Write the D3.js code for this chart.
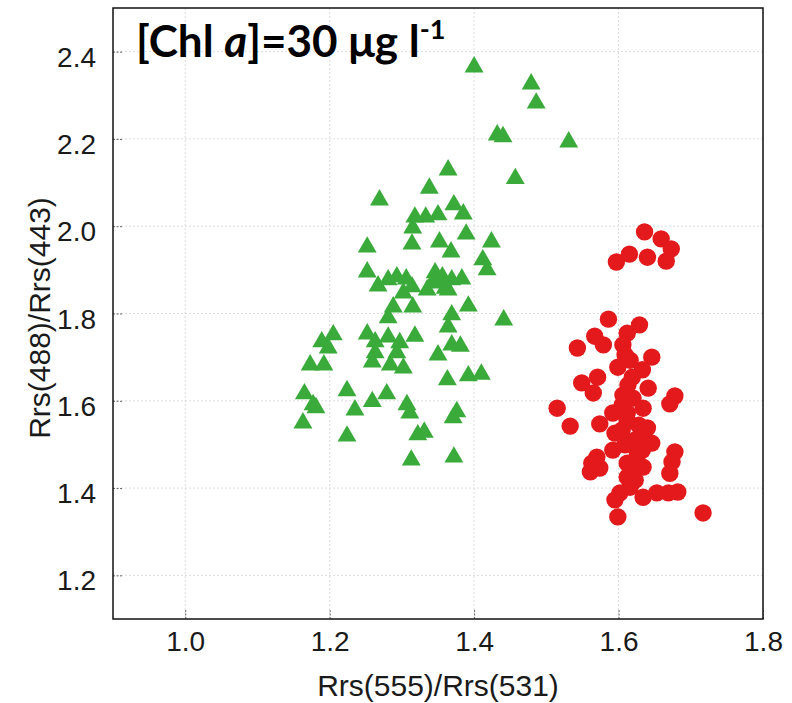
<!DOCTYPE html>
<html>
<head>
<meta charset="utf-8">
<script src="https://cdn.jsdelivr.net/npm/d3@7"></script>
<style>
  html, body { margin: 0; padding: 0; background: #fff; }
  svg { display: block; }
</style>
</head>
<body>
<svg id="chart" width="792" height="703"></svg>
<script>
// ---- data ----
const xDomain = [0.9, 1.8];
const yDomain = [1.1, 2.5];
const xTicks = [1.0, 1.2, 1.4, 1.6, 1.8];
const yTicks = [1.2, 1.4, 1.6, 1.8, 2.0, 2.2, 2.4];
const xTickLabels = ["1.0", "1.2", "1.4", "1.6", "1.8"];
const yTickLabels = ["1.2", "1.4", "1.6", "1.8", "2.0", "2.2", "2.4"];
const xLabel = "Rrs(555)/Rrs(531)";
const yLabel = "Rrs(488)/Rrs(443)";

// green triangles
const greenX = [1.400,1.479,1.486,1.432,1.440,1.531,1.364,1.457,1.338,1.269,
  1.318,1.333,1.350,1.372,1.385,1.315,1.389,1.424,1.252,1.314,
  1.352,1.368,1.412,1.418,1.252,1.293,1.281,1.306,1.267,1.346,
  1.356,1.342,1.369,1.383,1.314,1.364,1.302,1.335,1.315,1.288,
  1.392,1.441,1.281,1.369,1.364,1.205,1.189,1.252,1.281,1.318,
  1.263,1.297,1.369,1.381,1.263,1.293,1.259,1.284,1.302,1.350,
  1.173,1.192,1.363,1.392,1.410,1.165,1.224,1.279,1.177,1.259,
  1.307,1.376,1.235,1.311,1.371,1.163,1.224,1.322,1.331,1.313,
  1.372,1.198,1.349,1.360,1.181];
const greenY = [2.365,2.326,2.282,2.209,2.205,2.193,2.129,2.109,2.087,2.060,
  2.021,2.021,2.026,2.049,2.028,1.996,1.982,1.964,1.952,1.959,
  1.964,1.941,1.923,1.900,1.895,1.884,1.877,1.879,1.863,1.893,
  1.884,1.870,1.877,1.879,1.861,1.854,1.847,1.854,1.815,1.815,
  1.817,1.785,1.790,1.797,1.769,1.751,1.735,1.753,1.746,1.748,
  1.735,1.733,1.728,1.725,1.710,1.710,1.689,1.682,1.675,1.705,
  1.682,1.682,1.648,1.657,1.661,1.616,1.623,1.616,1.591,1.598,
  1.591,1.575,1.579,1.572,1.561,1.549,1.519,1.522,1.528,1.464,
  1.471,1.721,1.872,1.858,1.584];

// red circles
const redX = [1.636,1.659,1.673,1.615,1.640,1.666,1.597,1.586,1.629,1.567,
  1.612,1.543,1.579,1.606,1.646,1.599,1.616,1.633,1.619,1.641,
  1.549,1.571,1.565,1.678,1.671,1.606,1.620,1.515,1.592,1.612,
  1.634,1.533,1.574,1.612,1.628,1.640,1.595,1.646,1.630,1.633,
  1.592,1.570,1.678,1.674,1.612,1.634,1.561,1.574,1.619,1.612,
  1.671,1.623,1.616,1.653,1.669,1.682,1.602,1.595,1.634,1.599,
  1.717,1.609,1.613,1.605,1.623,1.609,1.626,1.605,1.563];
const redY = [1.987,1.971,1.948,1.936,1.929,1.920,1.918,1.787,1.774,1.748,
  1.755,1.721,1.728,1.728,1.700,1.677,1.693,1.671,1.654,1.629,
  1.641,1.654,1.618,1.611,1.593,1.613,1.606,1.583,1.572,1.572,
  1.583,1.542,1.547,1.554,1.544,1.538,1.526,1.503,1.515,1.487,
  1.487,1.471,1.483,1.460,1.457,1.448,1.437,1.446,1.441,1.425,
  1.434,1.418,1.402,1.389,1.389,1.391,1.389,1.373,1.379,1.334,
  1.343,1.705,1.636,1.590,1.510,1.499,1.476,1.533,1.457];

// ---- layout ----
const svg = d3.select("#chart");
const L = 113, R = 763, T = 8, B = 619;
const x = d3.scaleLinear().domain(xDomain).range([L, R]);
const y = d3.scaleLinear().domain(yDomain).range([B, T]);

// gridlines
const grid = svg.append("g");
grid.selectAll("line.gx").data(xTicks).join("line")
  .attr("x1", d => x(d)).attr("x2", d => x(d))
  .attr("y1", T).attr("y2", B)
  .attr("stroke", "#dcdcdc").attr("stroke-width", 1)
  .attr("stroke-dasharray", "2,2");
grid.selectAll("line.gy").data(yTicks).join("line")
  .attr("y1", d => y(d)).attr("y2", d => y(d))
  .attr("x1", L).attr("x2", R)
  .attr("stroke", "#dcdcdc").attr("stroke-width", 1)
  .attr("stroke-dasharray", "2,2");

// axes (ticks inside, dotted)
const xAxis = d3.axisBottom(x).tickValues(xTicks).tickSize(-9).tickPadding(12)
  .tickFormat((d, i) => xTickLabels[i]);
const yAxis = d3.axisLeft(y).tickValues(yTicks).tickSize(-9).tickPadding(17)
  .tickFormat((d, i) => yTickLabels[i]);

const gx = svg.append("g").attr("transform", `translate(0,${B})`).call(xAxis);
const gy = svg.append("g").attr("transform", `translate(${L},0)`).call(yAxis);
[gx, gy].forEach(g => {
  g.select(".domain").remove();
  g.selectAll(".tick line").attr("stroke", "#666").attr("stroke-dasharray", "2,1.5");
  g.selectAll(".tick text")
    .attr("fill", "#1a1a1a")
    .style("font-family", "'Liberation Sans', Arial, sans-serif")
    .style("font-size", "28px");
});
gy.selectAll(".tick text").attr("dy", "0.52em");

// markers
const tri = d3.symbol().type(d3.symbolTriangle).size(155);
svg.append("g").selectAll("path").data(greenX).join("path")
  .attr("d", tri)
  .attr("transform", (d, i) => `translate(${x(greenX[i])},${y(greenY[i])})`)
  .attr("fill", "#3aab3a");

svg.append("g").selectAll("circle").data(redX).join("circle")
  .attr("cx", (d, i) => x(redX[i]))
  .attr("cy", (d, i) => y(redY[i]))
  .attr("r", 8.7)
  .attr("fill", "#e3191c");

// frame
svg.append("rect").attr("x", L).attr("y", T)
  .attr("width", R - L).attr("height", B - T)
  .attr("fill", "none").attr("stroke", "#111").attr("stroke-width", 1.5);

// axis labels
svg.append("text").attr("x", 438).attr("y", 696)
  .attr("text-anchor", "middle")
  .style("font-family", "'Liberation Sans', Arial, sans-serif")
  .style("font-size", "30px").attr("fill", "#1a1a1a")
  .text(xLabel);
svg.append("text")
  .attr("transform", `translate(50,318) rotate(-90)`)
  .attr("text-anchor", "middle")
  .style("font-family", "'Liberation Sans', Arial, sans-serif")
  .style("font-size", "30px").attr("fill", "#1a1a1a")
  .text(yLabel);

// title
const title = svg.append("text").attr("x", 136).attr("y", 57)
  .style("font-family", "Lato, 'Open Sans', sans-serif")
  .style("font-weight", "bold").style("font-size", "44px").attr("fill", "#000");
title.append("tspan").text("[Chl ");
title.append("tspan").style("font-style", "italic").text("a");
title.append("tspan").text("]=30 μg l");
title.append("tspan").attr("dy", -18).style("font-size", "27px").text("-1");
</script>
</body>
</html>
